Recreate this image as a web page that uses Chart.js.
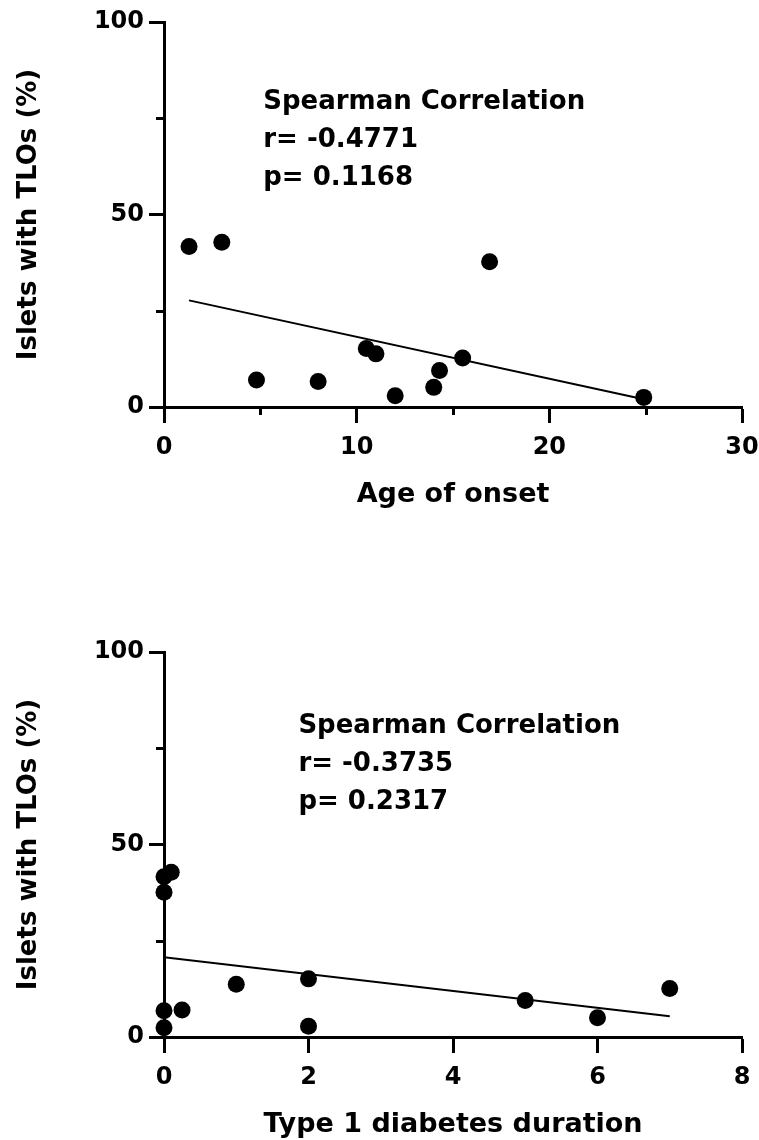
<!DOCTYPE html>
<html>
<head>
<meta charset="utf-8">
<title>Islets with TLOs vs age of onset / T1D duration</title>
<script src="https://cdn.jsdelivr.net/npm/chart.js@4.4.1/dist/chart.umd.min.js"></script>
<style>
  html, body { margin: 0; padding: 0; background: #fff; overflow: hidden; }
  .panel { position: absolute; left: 0; width: 759px; height: 560px; }
  #panelTop { top: 0; }
  #panelBottom { top: 630px; }
</style>
</head>
<body>
<div class="panel" id="panelTop"><canvas id="onsetChart" width="759" height="560"></canvas></div>
<div class="panel" id="panelBottom"><canvas id="durationChart" width="759" height="560"></canvas></div>
<script>
// values (one point per donor)
const ageOnset = [1.3, 3.0, 4.8, 8.0, 10.5, 11.0, 12.0, 14.0, 14.3, 15.5, 16.9, 24.9];
const tloByOnset = [41.7, 42.8, 7.0, 6.6, 15.2, 13.8, 2.9, 5.1, 9.5, 12.7, 37.7, 2.5];
const onsetFitX = [1.3, 24.9];
const onsetFitY = [27.7, 2.0];
const onsetStats = ['Spearman Correlation', 'r= -0.4771', 'p= 0.1168'];

const t1dDuration = [0, 0.1, 0, 0, 0, 0.25, 1, 2, 2, 5, 6, 7];
const tloByDuration = [41.6, 42.8, 37.6, 6.8, 2.4, 7.0, 13.7, 15.1, 2.8, 9.5, 5.0, 12.6];
const durationFitX = [0, 7];
const durationFitY = [20.7, 5.4];
const durationStats = ['Spearman Correlation', 'r= -0.3735', 'p= 0.2317'];

const yRange = [0, 100];
const yMinor = [25, 75];
const onsetRange = [0, 30];
const onsetMinor = [5, 15, 25];
const durationRange = [0, 8];

const FONT = '"DejaVu Sans", sans-serif';
Chart.defaults.font.family = FONT;
Chart.defaults.color = '#000';

// short unlabeled ticks (GraphPad style minor ticks)
const minorTicks = {
    id: 'minorTicks',
    afterDraw(chart, args, opts) {
        const {ctx, scales} = chart;
        ctx.save();
        ctx.strokeStyle = '#000';
        ctx.lineWidth = 3;
        ctx.beginPath();
        (opts.y || []).forEach(v => {
            const py = Math.round(scales.y.getPixelForValue(v)) + 0.5;
            ctx.moveTo(scales.y.right, py);
            ctx.lineTo(scales.y.right - opts.length, py);
        });
        (opts.x || []).forEach(v => {
            const px = Math.round(scales.x.getPixelForValue(v)) + 0.5;
            ctx.moveTo(px, scales.x.top);
            ctx.lineTo(px, scales.x.top + opts.length);
        });
        ctx.stroke();
        ctx.restore();
    }
};

// the Spearman text block
const statsText = {
    id: 'statsText',
    afterDraw(chart, args, opts) {
        const {ctx, scales} = chart;
        const x = scales.x.getPixelForValue(opts.at[0]);
        let y = scales.y.getPixelForValue(opts.at[1]);
        ctx.save();
        ctx.font = 'bold 26px ' + FONT;
        ctx.fillStyle = '#000';
        ctx.textAlign = 'left';
        ctx.textBaseline = 'alphabetic';
        opts.lines.forEach(line => {
            ctx.fillText(line, x, y);
            y += opts.gap;
        });
        ctx.restore();
    }
};

function makeChart(id, xs, ys, fitX, fitY, xRange, xStep, xMinor, xTitle, stats, statsAt) {
    return new Chart(document.getElementById(id), {
        type: 'scatter',
        data: {
            datasets: [{
                data: xs.map((x, i) => ({x: x, y: ys[i]})),
                pointRadius: 8.5,
                pointHoverRadius: 8.5,
                pointBackgroundColor: '#000',
                pointBorderWidth: 0,
                clip: false
            }, {
                data: fitX.map((x, i) => ({x: x, y: fitY[i]})),
                showLine: true,
                pointRadius: 0,
                borderColor: '#000',
                borderWidth: 2,
                fill: false
            }]
        },
        plugins: [minorTicks, statsText],
        options: {
            responsive: false,
            devicePixelRatio: 1,
            animation: false,
            layout: {padding: {left: 0, top: 22, right: 17, bottom: 0}},
            plugins: {
                legend: {display: false},
                tooltip: {enabled: false},
                minorTicks: {x: xMinor, y: yMinor, length: 8},
                statsText: {lines: stats, at: statsAt, gap: 38}
            },
            scales: {
                x: {
                    type: 'linear',
                    min: xRange[0],
                    max: xRange[1],
                    afterFit(scale) {
                        scale.height = 153;
                        scale.paddingLeft = 0;
                        scale.paddingRight = 0;
                    },
                    ticks: {
                        stepSize: xStep,
                        color: '#000',
                        padding: 10,
                        maxRotation: 0,
                        font: {size: 24, weight: 'bold'}
                    },
                    grid: {
                        drawOnChartArea: false,
                        drawTicks: true,
                        tickLength: 16,
                        tickWidth: 3,
                        tickColor: '#000'
                    },
                    border: {display: true, color: '#000', width: 3},
                    title: {
                        display: true,
                        text: xTitle,
                        color: '#000',
                        padding: {top: 0, bottom: 49},
                        font: {size: 27, weight: 'bold'}
                    }
                },
                y: {
                    type: 'linear',
                    min: yRange[0],
                    max: yRange[1],
                    afterFit(scale) {
                        scale.width = 164;
                        scale.paddingTop = 0;
                        scale.paddingBottom = 0;
                    },
                    ticks: {
                        stepSize: 50,
                        color: '#000',
                        padding: 5,
                        font: {size: 24, weight: 'bold'}
                    },
                    grid: {
                        drawOnChartArea: false,
                        drawTicks: true,
                        tickLength: 15,
                        tickWidth: 3,
                        tickColor: '#000'
                    },
                    border: {display: true, color: '#000', width: 3},
                    title: {
                        display: true,
                        text: 'Islets with TLOs (%)',
                        color: '#000',
                        padding: {top: 14, bottom: 0},
                        font: {size: 26, weight: 'bold'}
                    }
                }
            }
        }
    });
}

makeChart('onsetChart', ageOnset, tloByOnset, onsetFitX, onsetFitY,
    onsetRange, 10, onsetMinor, 'Age of onset', onsetStats, [5.15, 77.4]);
makeChart('durationChart', t1dDuration, tloByDuration, durationFitX, durationFitY,
    durationRange, 2, [], 'Type 1 diabetes duration', durationStats, [1.86, 78.9]);
</script>
</body>
</html>
